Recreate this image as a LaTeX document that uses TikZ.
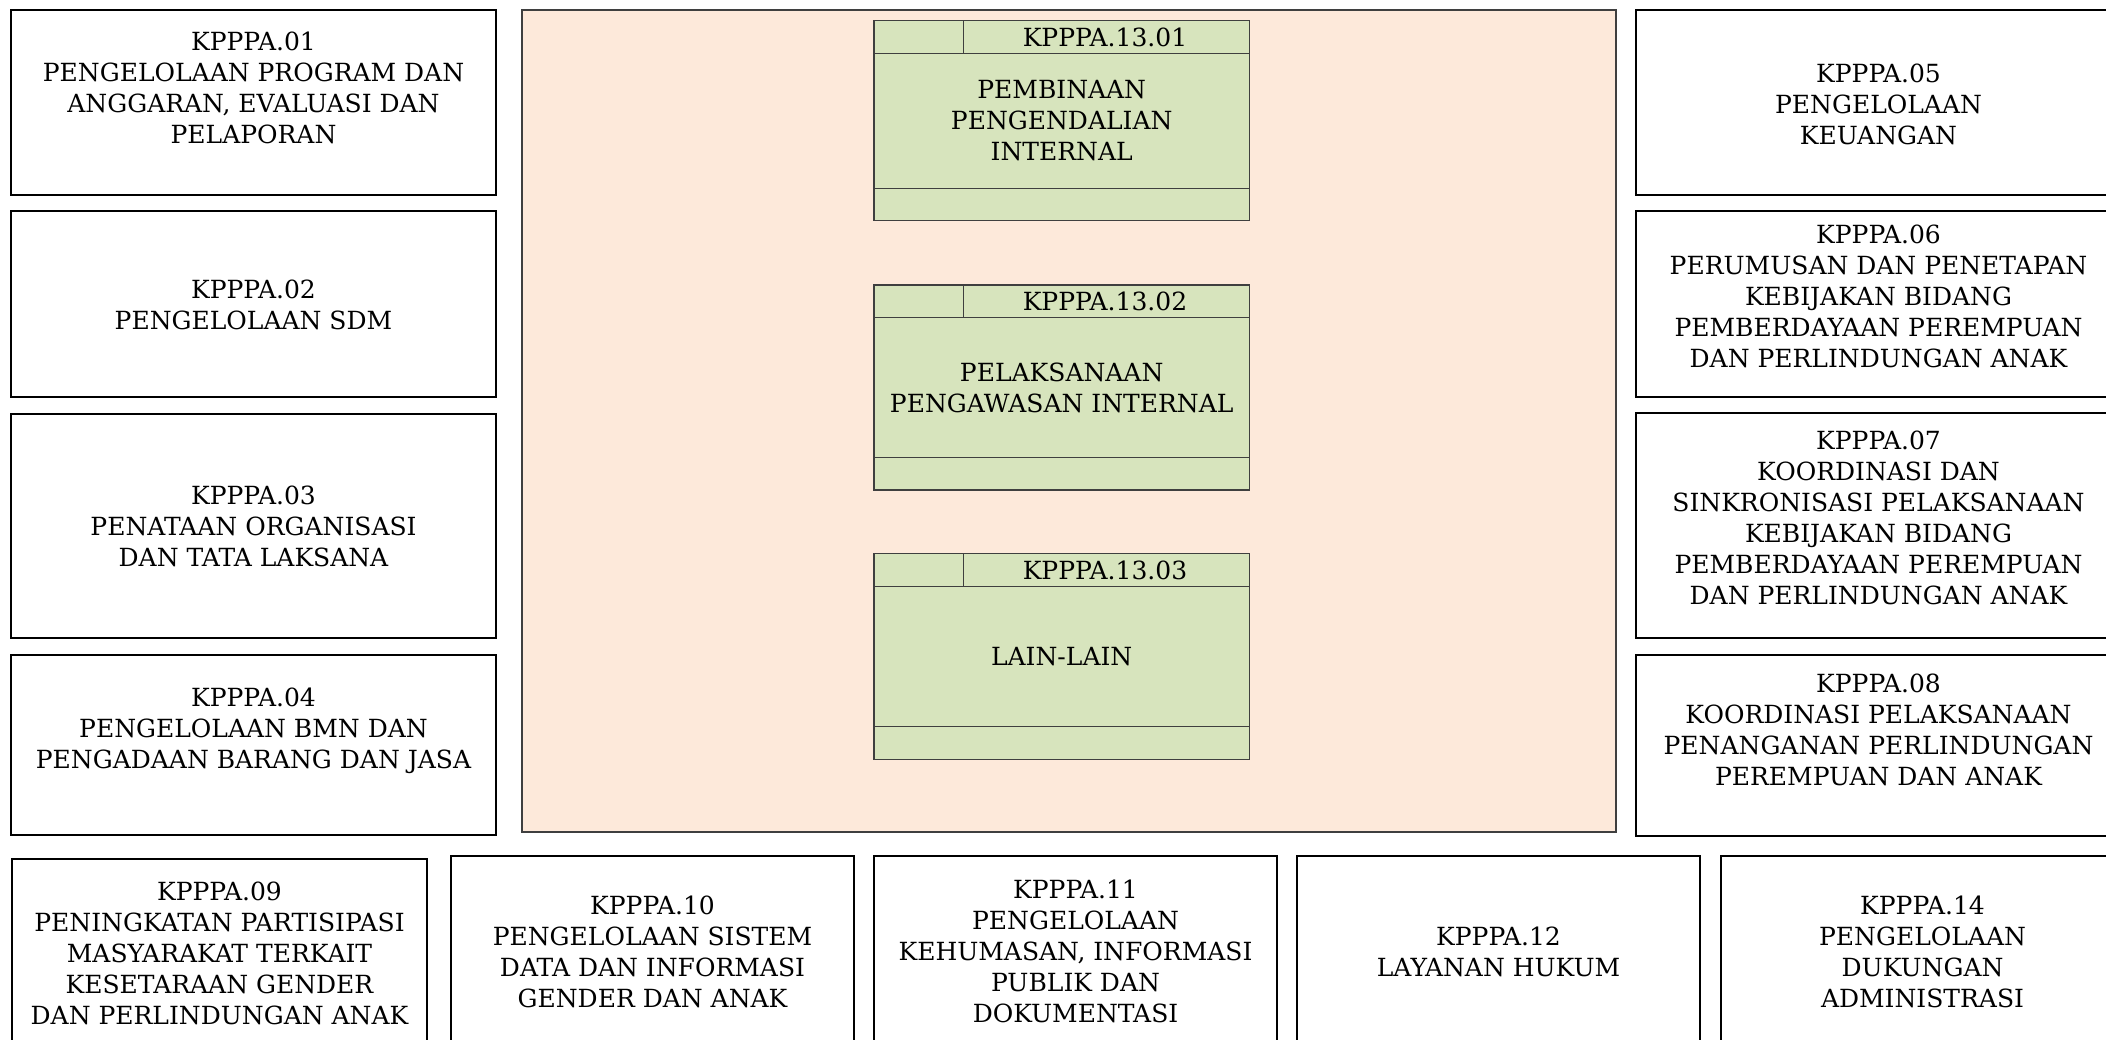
\documentclass[tikz,border=0pt]{standalone}
\usepackage{fontspec}
\setmainfont{DejaVu Serif}
\definecolor{pinkbg}{HTML}{FDE9DA}
\definecolor{greenbg}{HTML}{D7E4BD}
\definecolor{gborder}{HTML}{3F3F3F}
\begin{document}
\begin{tikzpicture}[x=1pt,y=-1pt,
  box/.style={draw=black, line width=1.3pt, fill=white, inner sep=0pt, outer sep=0pt},
  lbl/.style={align=center, inner sep=0pt, font=\fontsize{25pt}{31pt}\selectfont},
  glbl/.style={align=center, inner sep=0pt, font=\fontsize{25pt}{31pt}\selectfont},
  area/.style={draw=gborder, line width=1.5pt, fill=pinkbg, inner sep=0pt, outer sep=0pt},
  gbox/.style={draw=gborder, line width=1.3pt, fill=greenbg, inner sep=0pt, outer sep=0pt, minimum width=375.3pt},
  gline/.style={draw=gborder, line width=1.3pt}]
\path[use as bounding box, clip] (0,0) rectangle (2106,1040);
\fill[white] (0,0) rectangle (2106,1040);

% left column
\node[box, minimum width=485pt, minimum height=185pt] (k01) at (253.5,102.5) {};
\node[lbl] (t01) at (253.5,87.7) {KPPPA.01\\PENGELOLAAN PROGRAM DAN\\ANGGARAN, EVALUASI DAN\\PELAPORAN};
\node[box, minimum width=485pt, minimum height=186pt] (k02) at (253.5,304) {};
\node[lbl] (t02) at (253.5,305) {KPPPA.02\\PENGELOLAAN SDM};
\node[box, minimum width=485pt, minimum height=224pt] (k03) at (253.5,526) {};
\node[lbl] (t03) at (253.5,526) {KPPPA.03\\PENATAAN ORGANISASI\\DAN TATA LAKSANA};
\node[box, minimum width=485pt, minimum height=180pt] (k04) at (253.5,745) {};
\node[lbl] (t04) at (253.5,730.8) {KPPPA.04\\PENGELOLAAN BMN DAN\\PENGADAAN BARANG DAN JASA};

% right column
\node[box, minimum width=485pt, minimum height=185pt] (k05) at (1878.5,102.5) {};
\node[lbl] (t05) at (1878.5,104.5) {KPPPA.05\\PENGELOLAAN\\KEUANGAN};
\node[box, minimum width=485pt, minimum height=186pt] (k06) at (1878.5,304) {};
\node[lbl] (t06) at (1878.5,296.7) {KPPPA.06\\PERUMUSAN DAN PENETAPAN\\KEBIJAKAN BIDANG\\PEMBERDAYAAN PEREMPUAN\\DAN PERLINDUNGAN ANAK};
\node[box, minimum width=485pt, minimum height=225pt] (k07) at (1878.5,525.5) {};
\node[lbl] (t07) at (1878.5,518.3) {KPPPA.07\\KOORDINASI DAN\\SINKRONISASI PELAKSANAAN\\KEBIJAKAN BIDANG\\PEMBERDAYAAN PEREMPUAN\\DAN PERLINDUNGAN ANAK};
\node[box, minimum width=485pt, minimum height=181pt] (k08) at (1878.5,745.5) {};
\node[lbl] (t08) at (1878.5,730) {KPPPA.08\\KOORDINASI PELAKSANAAN\\PENANGANAN PERLINDUNGAN\\PEREMPUAN DAN ANAK};

% bottom row
\node[box, minimum width=415pt, minimum height=187pt] (k09) at (219.5,952.5) {};
\node[lbl] (t09) at (219.5,953.3) {KPPPA.09\\PENINGKATAN PARTISIPASI\\MASYARAKAT TERKAIT\\KESETARAAN GENDER\\DAN PERLINDUNGAN ANAK};
\node[box, minimum width=403pt, minimum height=190pt] (k10) at (652.5,951) {};
\node[lbl] (t10) at (652.5,952.2) {KPPPA.10\\PENGELOLAAN SISTEM\\DATA DAN INFORMASI\\GENDER DAN ANAK};
\node[box, minimum width=403pt, minimum height=190pt] (k11) at (1075.5,951) {};
\node[lbl] (t11) at (1075.5,951) {KPPPA.11\\PENGELOLAAN\\KEHUMASAN, INFORMASI\\PUBLIK DAN\\DOKUMENTASI};
\node[box, minimum width=403pt, minimum height=190pt] (k12) at (1498.5,951) {};
\node[lbl] (t12) at (1498.5,952) {KPPPA.12\\LAYANAN HUKUM};
\node[box, minimum width=403pt, minimum height=190pt] (k14) at (1922.5,951) {};
\node[lbl] (t14) at (1922.5,952.3) {KPPPA.14\\PENGELOLAAN\\DUKUNGAN\\ADMINISTRASI};

% central area
\node[area, minimum width=1094pt, minimum height=822pt] (pink) at (1069,421) {};

% green box 1
\node[gbox, minimum height=200pt] (g1) at (1061.7,120.7) {};
\draw[gline] (874,53.3) -- (1249.3,53.3);
\draw[gline] (963.3,20.7) -- (963.3,53.3);
\draw[gline] (874,188.3) -- (1249.3,188.3);
\node[glbl] (g1h) at (1105,37) {KPPPA.13.01};
\node[glbl] (g1t) at (1061.7,121) {PEMBINAAN\\PENGENDALIAN\\INTERNAL};

% green box 2
\node[gbox, minimum height=205pt] (g2) at (1061.7,387.5) {};
\draw[gline] (874,317.5) -- (1249.3,317.5);
\draw[gline] (963.3,285) -- (963.3,317.5);
\draw[gline] (874,457.5) -- (1249.3,457.5);
\node[glbl] (g2h) at (1105,301.2) {KPPPA.13.02};
\node[glbl] (g2t) at (1061.7,387.5) {PELAKSANAAN\\PENGAWASAN INTERNAL};

% green box 3
\node[gbox, minimum height=205.6pt] (g3) at (1061.7,656.5) {};
\draw[gline] (874,586.7) -- (1249.3,586.7);
\draw[gline] (963.3,553.7) -- (963.3,586.7);
\draw[gline] (874,726.7) -- (1249.3,726.7);
\node[glbl] (g3h) at (1105,570.2) {KPPPA.13.03};
\node[glbl] (g3t) at (1061.7,656.7) {LAIN-LAIN};
\end{tikzpicture}
\end{document}
